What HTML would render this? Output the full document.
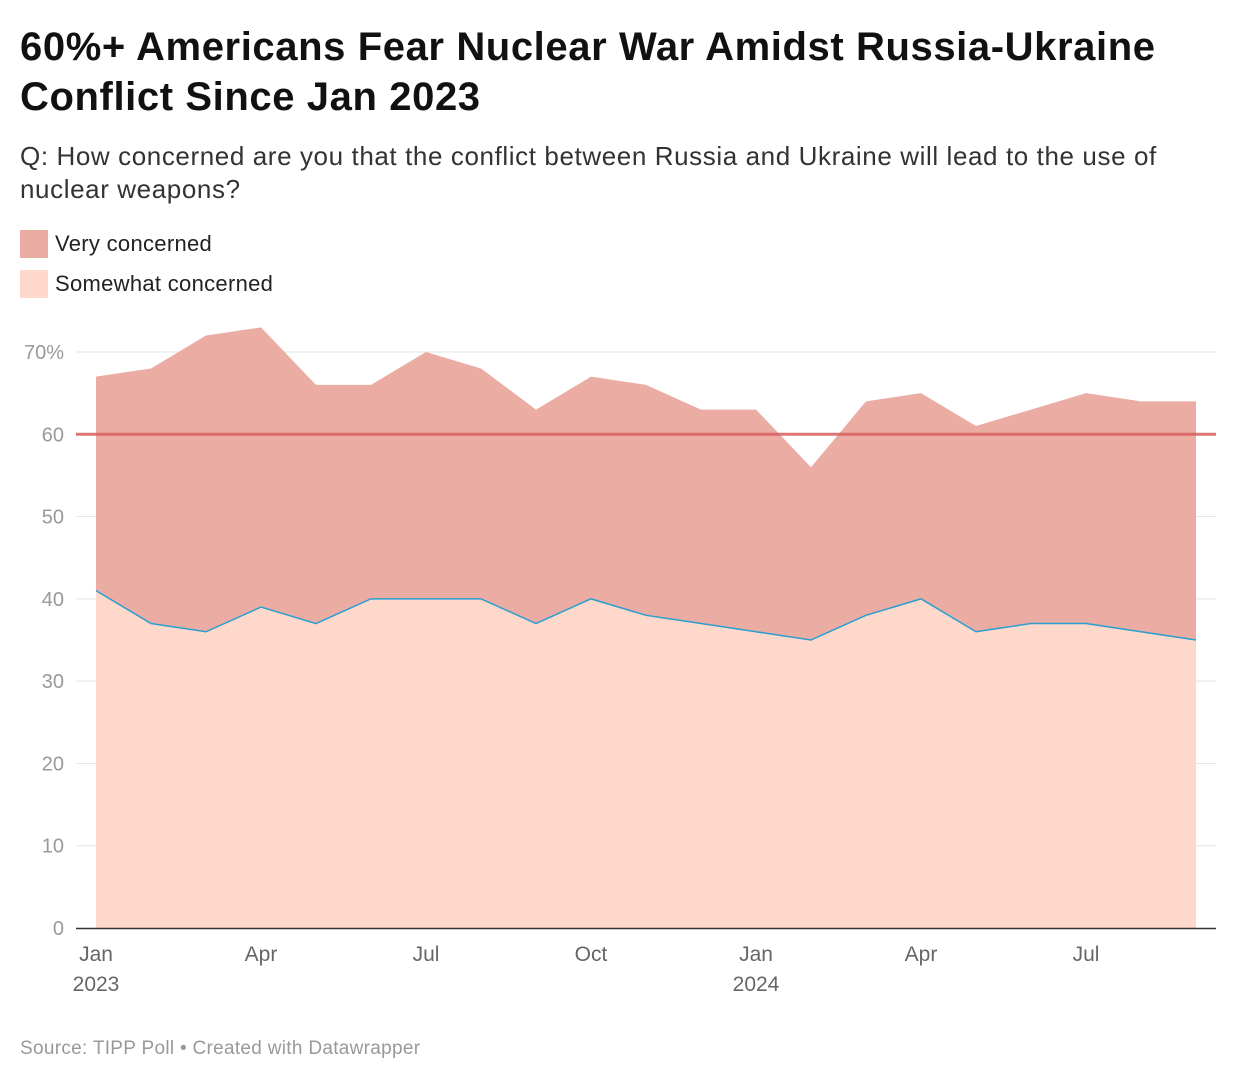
<!DOCTYPE html>
<html><head><meta charset="utf-8"><style>
body{margin:0;background:#fff;width:1240px;height:1084px;overflow:hidden;font-family:"Liberation Sans",Arial,sans-serif;}
h1{position:absolute;left:20px;top:22px;margin:0;font-size:40px;line-height:50px;font-weight:bold;color:#111;width:1190px;letter-spacing:0.6px}
.sub{position:absolute;left:20px;top:140px;font-size:26px;line-height:33px;color:#333;width:1200px;letter-spacing:0.6px}
.leg{position:absolute;left:20px;font-size:22px;color:#222;display:flex;align-items:center;letter-spacing:0.3px}
.sw{width:28px;height:28px;margin-right:7px}
.src{position:absolute;left:20px;top:1038px;font-size:19px;color:#999;letter-spacing:0.3px}
svg{position:absolute;left:0;top:0}
</style></head><body>
<h1>60%+ Americans Fear Nuclear War Amidst Russia-Ukraine Conflict Since Jan 2023</h1>
<div class="sub">Q: How concerned are you that the conflict between Russia and Ukraine will lead to the use of nuclear weapons?</div>
<div class="leg" style="top:230px"><div class="sw" style="background:#eaaca3"></div>Very concerned</div>
<div class="leg" style="top:270px"><div class="sw" style="background:#fed8cb"></div>Somewhat concerned</div>
<svg id="chart" width="1240" height="1084"></svg>
<div class="src">Source: TIPP Poll • Created with Datawrapper</div>
<script>
const months=["2023-01","2023-02","2023-03","2023-04","2023-05","2023-06","2023-07","2023-08","2023-09","2023-10","2023-11","2023-12","2024-01","2024-02","2024-03","2024-04","2024-05","2024-06","2024-07","2024-08","2024-09"];
const somewhat=[41,37,36,39,37,40,40,40,37,40,38,37,36,35,38,40,36,37,37,36,35];
const very=[26,31,36,34,29,26,30,28,26,27,28,26,27,21,26,25,25,26,28,28,29];
const yTicks=[0,10,20,30,40,50,60,70];
const xTickIdx=[0,3,6,9,12,15,18];
const xTickLabels=["Jan","Apr","Jul","Oct","Jan","Apr","Jul"];
const xTickYears=["2023","","","","2024","",""];
const reference=60;
const svg=document.getElementById('chart');const NS="http://www.w3.org/2000/svg";
const x=i=>96+i*55, y=v=>928-v*(576/70);
function mk(t,a){const e=document.createElementNS(NS,t);for(const k in a)e.setAttribute(k,a[k]);svg.appendChild(e);return e;}
yTicks.forEach(t=>{
 if(t>0){const g=mk('line',{x1:76,x2:1216,y1:y(t),y2:y(t),stroke:'#e3e3e3','stroke-width':1});
 
 }
 const l=mk('text',{x:64,y:y(t)+7,'text-anchor':'end','font-size':20,fill:'#999','font-family':'Liberation Sans'});
 l.textContent=t===70?'70%':t;
 
 
});
const tot=somewhat.map((s,i)=>s+very[i]);
const topPts=tot.map((v,i)=>x(i)+','+y(v)).join(' ');
const mid=somewhat.map((v,i)=>x(i)+','+y(v));
const a1=mk('polygon',{points:topPts+' '+mid.slice().reverse().join(' '),fill:'#eaaca3'});


const a2=mk('polygon',{points:mid.join(' ')+' '+x(somewhat.length-1)+','+y(0)+' '+x(0)+','+y(0),fill:'#fed8cb'});


const ln=mk('polyline',{points:mid.join(' '),fill:'none',stroke:'#2a9fd0','stroke-width':1.5});


const r=mk('line',{x1:76,x2:1216,y1:y(reference),y2:y(reference),stroke:'#d9605e','stroke-width':3,opacity:0.85});


const ax=mk('line',{x1:76,x2:1216,y1:928.5,y2:928.5,stroke:'#333','stroke-width':1.5});


xTickIdx.forEach((idx,k)=>{
 const t=mk('text',{x:x(idx),y:961,'text-anchor':'middle','font-size':21,fill:'#666','font-family':'Liberation Sans'});
 t.textContent=xTickLabels[k];
 
 
 if(xTickYears[k]){const yy=mk('text',{x:x(idx),y:991,'text-anchor':'middle','font-size':21,fill:'#666','font-family':'Liberation Sans'});
 yy.textContent=xTickYears[k];
 
 }
});
</script>
</body></html>
